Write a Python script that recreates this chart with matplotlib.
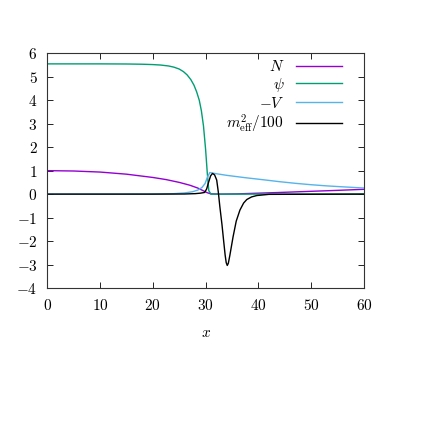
import matplotlib
matplotlib.use('Agg')
import matplotlib.pyplot as plt
from matplotlib.ticker import FuncFormatter, MultipleLocator

plt.rcParams['mathtext.fontset'] = 'cm'
plt.rcParams['font.family'] = 'serif'
plt.rcParams['font.serif'] = ['cmr10', 'DejaVu Serif']
plt.rcParams['axes.unicode_minus'] = False

# values
x_N = [0, 5, 10, 15, 17.5, 20, 22.5, 25, 27, 28.5, 29.5, 30.3, 31, 33, 36, 40, 44, 50, 55, 60]
y_N = [1.0, 0.985, 0.94, 0.85, 0.78, 0.71, 0.62, 0.50, 0.38, 0.26, 0.15, 0.06, 0.01, 0.0, 0.01, 0.04, 0.07, 0.12, 0.16, 0.205]

x_psi = [0, 10, 15, 18, 20, 21.5, 23, 24, 25, 25.8, 26.5, 27.2, 27.8, 28.3, 28.8, 29.2, 29.6, 30.0, 30.3, 30.6, 31, 40, 60]
y_psi = [5.55, 5.55, 5.545, 5.535, 5.52, 5.50, 5.46, 5.41, 5.33, 5.22, 5.08, 4.88, 4.64, 4.36, 4.0, 3.55, 2.90, 1.90, 0.95, 0.15, 0.0, 0.0, 0.0]

x_V = [0, 20, 24, 26, 27.5, 28.5, 29.3, 29.9, 30.3, 30.8, 32, 34, 37.5, 41, 44, 47, 50, 53, 56, 60]
y_V = [0.0, 0.005, 0.02, 0.05, 0.10, 0.17, 0.28, 0.45, 0.70, 0.92, 0.87, 0.80, 0.70, 0.61, 0.53, 0.46, 0.40, 0.35, 0.31, 0.26]

x_m = [0, 20, 26, 28, 29, 29.8, 30.2, 30.5, 30.95, 31.3, 31.7, 32.1, 32.4, 32.7, 33.1, 33.4, 33.7, 33.9, 34.1, 34.3,
       34.6, 35.2, 35.8, 36.5, 37.2, 37.8, 38.7, 39.7, 42, 60]
y_m = [0.0, 0.0, 0.005, 0.02, 0.04, 0.07, 0.22, 0.46, 0.78, 0.88, 0.82, 0.6, 0.1, -0.54, -1.3, -1.96, -2.6, -2.92, -3.04, -2.95,
       -2.6, -1.82, -1.15, -0.68, -0.38, -0.23, -0.12, -0.06, -0.01, 0.0]

fig = plt.figure(figsize=(4.37, 4.37), dpi=100)
ax = fig.add_axes([0.108, 0.341, 0.725, 0.537])

ax.plot(x_N, y_N, color='#9400d3', lw=1.0, label='$N$')
ax.plot(x_psi, y_psi, color='#009e73', lw=1.0, label=r'$\psi$')
ax.plot(x_V, y_V, color='#56b4e9', lw=1.0, label='$-V$')
ax.plot(x_m, y_m, color='black', lw=1.0, label=r'$m^2_{\rm eff}/100$')

ax.set_xlim(0, 60)
ax.set_ylim(-4, 6)
ax.xaxis.set_major_locator(MultipleLocator(10))
ax.yaxis.set_major_locator(MultipleLocator(1))
fmt = FuncFormatter(lambda v, p: f'${v:g}$')
ax.xaxis.set_major_formatter(fmt)
ax.yaxis.set_major_formatter(fmt)
ax.tick_params(direction='in', top=True, right=True, length=4, width=0.6, labelsize=11, pad=7)
for s in ax.spines.values():
    s.set_linewidth(0.8)
    s.set_color('#333333')

ax.set_xlabel('$x$', fontsize=11, labelpad=10)

ax.legend(loc='upper right', frameon=False, markerfirst=False, fontsize=11,
          handlelength=3.0, handletextpad=0.8, labelspacing=0.12,
          borderaxespad=0.2, bbox_to_anchor=(0.96, 1.015))

fig.savefig('out.png', dpi=100)
